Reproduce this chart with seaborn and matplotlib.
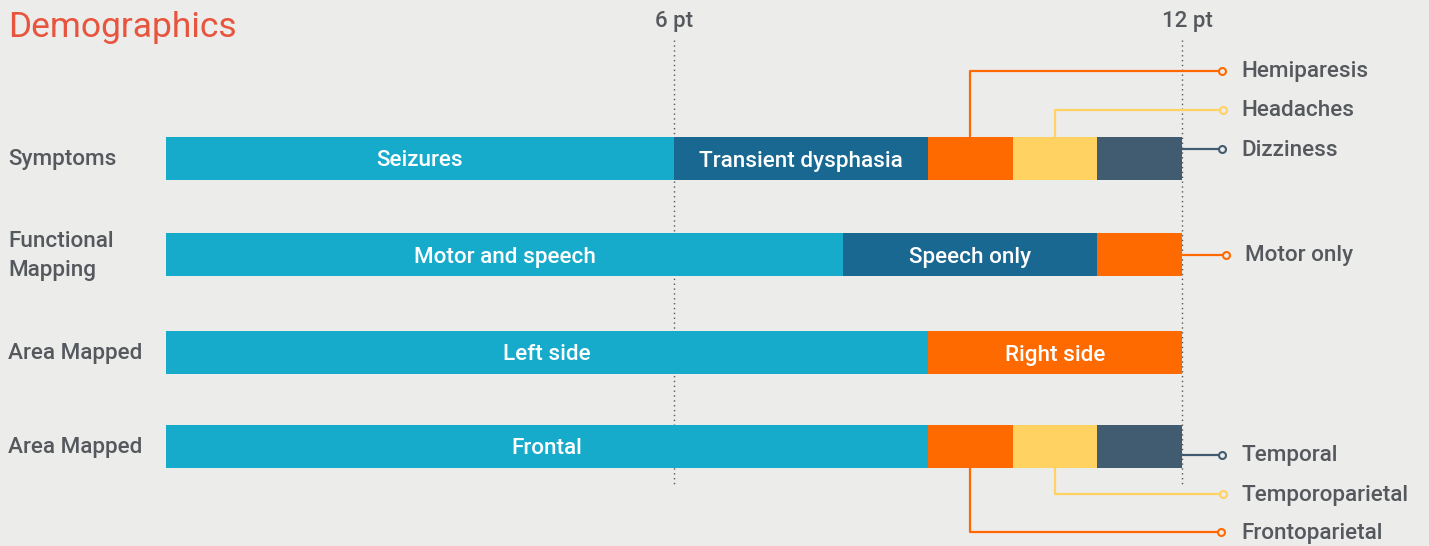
import matplotlib
matplotlib.use("Agg")
import matplotlib.pyplot as plt
import seaborn as sns

# ---- data ----
rows = ["Symptoms", "Functional\nMapping", "Area Mapped", "Area Mapped"]
seg_names = [
    ["Seizures", "Transient dysphasia", "Hemiparesis", "Headaches", "Dizziness"],
    ["Motor and speech", "Speech only", "Motor only"],
    ["Left side", "Right side"],
    ["Frontal", "Frontoparietal", "Temporoparietal", "Temporal"],
]
seg_values = [
    [6, 3, 1, 1, 1],
    [8, 3, 1],
    [9, 3],
    [9, 1, 1, 1],
]
ticks = [6, 12]
tick_labels = ["6 pt", "12 pt"]

# ---- style ----
BG = "#ECECEA"
TXT = "#55595E"
CYAN, NAVY, ORANGE, YELLOW, SLATE = "#16ABCB", "#186891", "#FF6A00", "#FFD262", "#415C70"
seg_colors = [
    [CYAN, NAVY, ORANGE, YELLOW, SLATE],
    [CYAN, NAVY, ORANGE],
    [CYAN, ORANGE],
    [CYAN, ORANGE, YELLOW, SLATE],
]
# which segments get an inside label (others get callouts)
inside = [[True, True, False, False, False],
          [True, True, False],
          [True, True],
          [True, False, False, False]]

sns.set_theme(style="white")
plt.rcParams["font.family"] = ["Roboto", "DejaVu Sans"]
FS = 16.2

fig = plt.figure(figsize=(14.29, 5.46), dpi=100, facecolor=BG)
ax = fig.add_axes([0, 0, 1, 1], facecolor=BG)
px = 1016 / 12.0  # pixels per point
ax.set_xlim(-166 / px, 12 + (1429 - 1182) / px)
ax.set_ylim(546, 0)
ax.axis("off")

row_y = [158, 254, 352, 446]
bar_h = 43

# reference lines
for t, lab in zip(ticks, tick_labels):
    ax.vlines(t, 40, 485, colors="#555555", linestyles=(0, (1, 2.5)), linewidth=1.0, zorder=1)
    ax.text(t + (0.07 if t == 12 else 0), 21, lab, ha="center", va="center",
            fontsize=16, color=TXT, fontweight="medium")

for i, (name, vals, cols, ins) in enumerate(zip(rows, seg_values, seg_colors, inside)):
    y = row_y[i]
    left = 0
    for lab, v, c, show in zip(seg_names[i], vals, cols, ins):
        ax.barh(y, v, left=left, height=bar_h, color=c, edgecolor="none", zorder=2)
        if show:
            ax.text(left + v / 2, y + 3, lab, ha="center", va="center", color="white",
                    fontsize=FS, fontweight="medium", zorder=3)
        left += v
    ax.text(-158 / px, y + 2, name, ha="left", va="center", color=TXT, fontsize=FS,
            fontweight="medium", linespacing=1.45)

# callouts: (row, segment, label y, line end x px, text x px)
callouts = [
    (0, 2, 71, 1222, 1241),
    (0, 3, 110, 1223, 1241),
    (0, 4, 149, 1222, 1241),
    (1, 2, 255, 1226, 1245),
    (3, 3, 455, 1222, 1241),
    (3, 2, 494, 1223, 1241),
    (3, 1, 532, 1221, 1241),
]
for r, s, ly, lx, tx in callouts:
    vals = seg_values[r]
    c = seg_colors[r][s]
    start = sum(vals[:s])
    y = row_y[r]
    endx = (lx - 166) / px
    last = s == len(vals) - 1
    if last:
        xs, ys = [12, endx], [ly, ly]
    else:
        mid = start + vals[s] / 2
        edge = y - bar_h / 2 if ly < y else y + bar_h / 2
        xs, ys = [mid, mid, endx], [edge, ly, ly]
    ax.plot(xs, ys, color=c, linewidth=1.6, zorder=2, solid_capstyle="butt")
    ax.plot([endx], [ly], marker="o", markersize=5, markerfacecolor=BG,
            markeredgecolor=c, markeredgewidth=1.5, zorder=3)
    ax.text((tx - 166) / px, ly + 1, seg_names[r][s], ha="left", va="center",
            color=TXT, fontsize=FS, fontweight="medium")

fig.text(8 / 1429, 1 - 27 / 546, "Demographics", ha="left", va="center",
         color="#E8553F", fontsize=25.5, fontweight="normal")

fig.savefig("out.png", dpi=100, facecolor=BG)
